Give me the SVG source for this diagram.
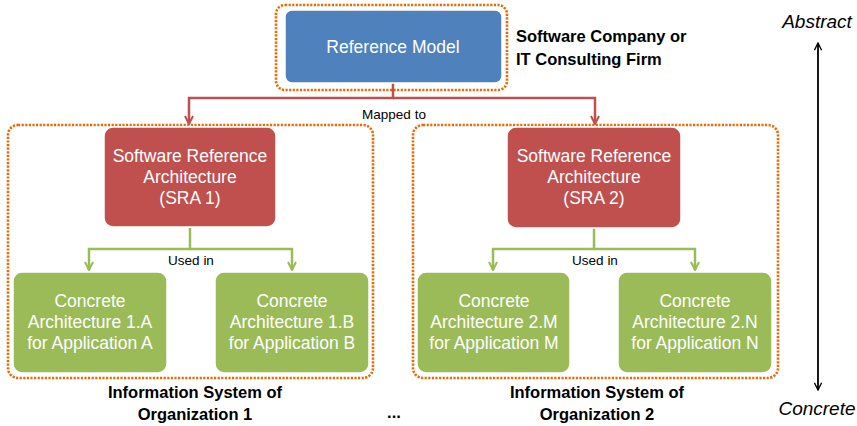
<svg xmlns="http://www.w3.org/2000/svg" width="857" height="426" viewBox="0 0 857 426">
<defs>
<style>
.grp{fill:none;stroke:#E46C0A;stroke-width:2.6;stroke-dasharray:2.2 1.4}
.blue{fill:#4F81BD;stroke:#fff;stroke-width:1.5}
.red{fill:#C0504D;stroke:#fff;stroke-width:1.5}
.green{fill:#9BBB59;stroke:#fff;stroke-width:1.5}
.wt{fill:#fff;font-family:"Liberation Sans",Arial,sans-serif;font-size:17.5px;text-anchor:middle}
.lbl{fill:#000;font-family:"Liberation Sans",Arial,sans-serif;font-size:13.5px;text-anchor:middle}
.bold{fill:#000;font-family:"Liberation Sans",Arial,sans-serif;font-size:16.5px;font-weight:bold}
.it{fill:#000;font-family:"Liberation Sans",Arial,sans-serif;font-size:19px;font-style:italic}
.rc{fill:none;stroke:#C0504D;stroke-width:2.5}
.gc{fill:none;stroke:#9BBB59;stroke-width:2.5}
.ax{fill:none;stroke:#000;stroke-width:1.8}
</style>
<marker id="ar" viewBox="0 0 10 10" refX="9" refY="5" markerWidth="4" markerHeight="4" orient="auto" markerUnits="strokeWidth"><path d="M1,1 L9,5 L1,9" fill="none" stroke="#C0504D" stroke-width="2"/></marker>
<marker id="ag" viewBox="0 0 10 10" refX="9" refY="5" markerWidth="4" markerHeight="4" orient="auto" markerUnits="strokeWidth"><path d="M1,1 L9,5 L1,9" fill="none" stroke="#9BBB59" stroke-width="2"/></marker>
<marker id="ak" viewBox="0 0 10 10" refX="9" refY="5" markerWidth="5" markerHeight="5" orient="auto" markerUnits="strokeWidth"><path d="M1,1 L9,5 L1,9" fill="none" stroke="#000" stroke-width="1.5"/></marker>
</defs>
<rect width="857" height="426" fill="#fff"/>

<g id="groups">
<rect class="grp" x="276" y="5" width="231" height="85" rx="9"/>
<rect class="grp" x="8" y="125" width="365" height="253" rx="10"/>
<rect class="grp" x="413" y="125" width="365" height="253" rx="10"/>
</g>

<g id="connectors">
<path class="rc" d="M393,83 V98 H189 V124" marker-end="url(#ar)"/>
<path class="rc" d="M393,98 H595 V124" marker-end="url(#ar)"/>
<text class="lbl" x="394" y="119">Mapped to</text>
<path class="gc" d="M190,228 V249 H89 V270" marker-end="url(#ag)"/>
<path class="gc" d="M190,249 H292 V270" marker-end="url(#ag)"/>
<text class="lbl" x="191" y="265">Used in</text>
<path class="gc" d="M594,228 V249 H493 V270" marker-end="url(#ag)"/>
<path class="gc" d="M594,249 H695 V270" marker-end="url(#ag)"/>
<text class="lbl" x="595" y="265">Used in</text>
</g>

<g id="refmodel">
<rect class="blue" x="285" y="10" width="217" height="73" rx="7"/>
<text class="wt" x="393" y="53">Reference Model</text>
</g>
<g id="company">
<text class="bold" x="516" y="42">Software Company or</text>
<text class="bold" x="516" y="65">IT Consulting Firm</text>
</g>

<g id="sra1">
<rect class="red" x="104" y="127" width="172" height="100" rx="9"/>
<text class="wt" x="190" y="162">Software Reference</text>
<text class="wt" x="190" y="183">Architecture</text>
<text class="wt" x="190" y="204">(SRA 1)</text>
</g>
<g id="sra2">
<rect class="red" x="507" y="127" width="174" height="101" rx="9"/>
<text class="wt" x="594" y="162">Software Reference</text>
<text class="wt" x="594" y="183">Architecture</text>
<text class="wt" x="594" y="204">(SRA 2)</text>
</g>

<g id="ca1a">
<rect class="green" x="13" y="272" width="154" height="101" rx="9"/>
<text class="wt" x="90" y="307">Concrete</text>
<text class="wt" x="90" y="328">Architecture 1.A</text>
<text class="wt" x="90" y="349">for Application A</text>
</g>
<g id="ca1b">
<rect class="green" x="215" y="272" width="154" height="101" rx="9"/>
<text class="wt" x="292" y="307">Concrete</text>
<text class="wt" x="292" y="328">Architecture 1.B</text>
<text class="wt" x="292" y="349">for Application B</text>
</g>
<g id="ca2m">
<rect class="green" x="417" y="272" width="153" height="101" rx="9"/>
<text class="wt" x="494" y="307">Concrete</text>
<text class="wt" x="494" y="328">Architecture 2.M</text>
<text class="wt" x="494" y="349">for Application M</text>
</g>
<g id="ca2n">
<rect class="green" x="618" y="272" width="154" height="101" rx="9"/>
<text class="wt" x="695" y="307">Concrete</text>
<text class="wt" x="695" y="328">Architecture 2.N</text>
<text class="wt" x="695" y="349">for Application N</text>
</g>

<g id="org1">
<text class="bold" x="195" y="398" text-anchor="middle">Information System of</text>
<text class="bold" x="195" y="420" text-anchor="middle">Organization 1</text>
</g>
<text class="bold" x="394" y="418" text-anchor="middle">...</text>
<g id="org2">
<text class="bold" x="597" y="398" text-anchor="middle">Information System of</text>
<text class="bold" x="597" y="420" text-anchor="middle">Organization 2</text>
</g>

<g id="axis">
<text class="it" x="817" y="28" text-anchor="middle">Abstract</text>
<path class="ax" d="M818,215 V43" marker-end="url(#ak)"/>
<path class="ax" d="M818,215 V390" marker-end="url(#ak)"/>
<text class="it" x="817" y="415" text-anchor="middle">Concrete</text>
</g>
</svg>
